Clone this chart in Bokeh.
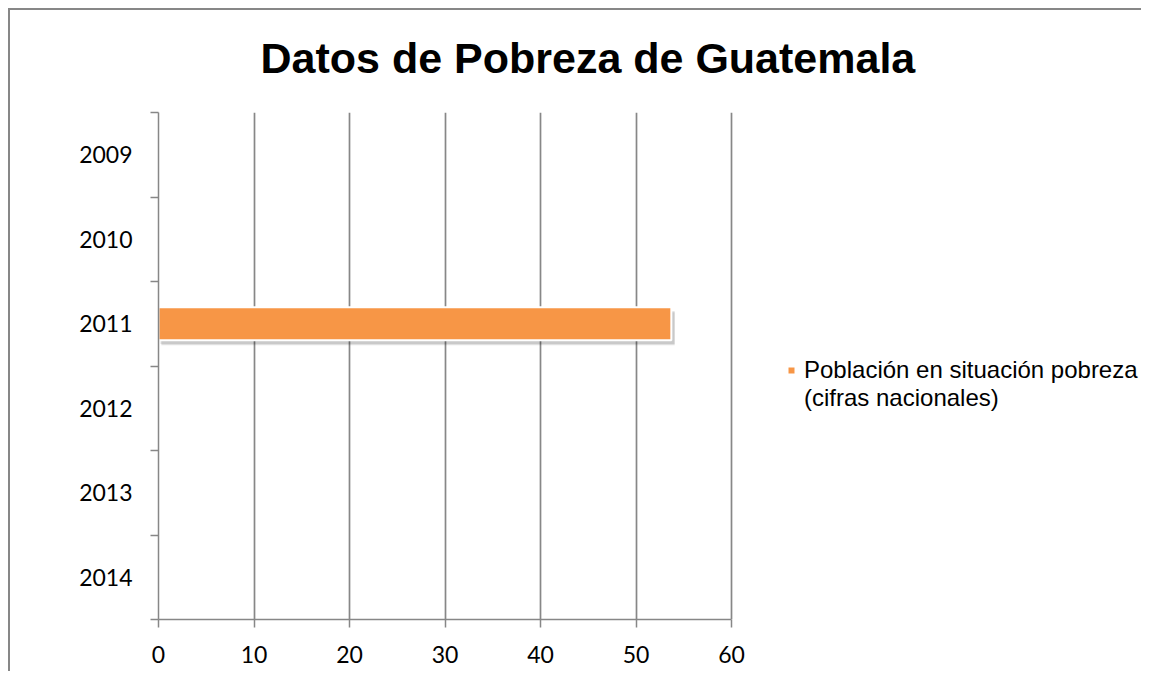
from bokeh.plotting import figure
from bokeh.models import (ColumnDataSource, FixedTicker, Legend, LegendItem,
                          Range1d)
from bokeh.transform import dodge
from bokeh.embed import file_html
from bokeh.resources import INLINE

# ---- data ----
years = ["2009", "2010", "2011", "2012", "2013", "2014"]
poverty = [None, None, 53.7, None, None, None]
series_lines = ["Población en situación pobreza", "(cifras nacionales)"]
title_text = "Datos de Pobreza de Guatemala"
x_ticks = [0, 10, 20, 30, 40, 50, 60]

GRAY = "#878787"
ORANGE = "#F79646"

# layout (pixels)
FRAME_L, FRAME_R_AXIS, CANVAS_W, BORDER_R = 158, 573, 1141, 0
frame_w = CANVAS_W - FRAME_L - BORDER_R
x_max = x_ticks[-1]
x_end = x_max * frame_w / FRAME_R_AXIS   # frame extends to the right for legend room

n = len(years)
pos = {y: n - 1 - i + 0.5 for i, y in enumerate(years)}   # first year at top
vals = [v for v in poverty if v is not None]
src = ColumnDataSource(dict(
    y=[pos[y] for y, v in zip(years, poverty) if v is not None],
    v=vals,
    v_sh=[v + 0.35 for v in vals],
))

p = figure(width=CANVAS_W, height=671, output_backend="svg", toolbar_location=None,
           x_range=Range1d(0, x_end), y_range=Range1d(0, n),
           min_border_left=FRAME_L, min_border_top=112, min_border_right=BORDER_R,
           min_border_bottom=52)
# chart-area border (left and top edges visible in the window)
p.styles = {
    "background": (f"linear-gradient({GRAY},{GRAY}) 8px 8px / 2px calc(100% - 8px) no-repeat, "
                   f"linear-gradient({GRAY},{GRAY}) 8px 8px / calc(100% - 8px) 2px no-repeat, "
                   "#ffffff"),
}
p.outline_line_color = None
p.background_fill_color = "white"
p.border_fill_color = None

# soft shadow under the bar
p.hbar(y=dodge("y", -0.06), right="v_sh", left=0.3, height=0.39, source=src,
       fill_color="black", fill_alpha=0.12, line_color=None)
p.hbar(y=dodge("y", -0.045), right="v_sh", left=0.2, height=0.39, source=src,
       fill_color="black", fill_alpha=0.10, line_color=None)
r = p.hbar(y="y", right="v", left=0, height=0.39, source=src,
           fill_color=ORANGE, line_color="white", line_width=2)
# invisible renderer used only for the second legend text line
r_blank = p.hbar(y=[], right=[], left=0, height=0.39,
                 fill_alpha=0, line_alpha=0)

# title
p.title.text = title_text
p.title.text_font = "Liberation Sans"
p.title.text_font_size = "43px"
p.title.text_font_style = "bold"
p.title.text_color = "black"
p.title.align = "left"
p.title.offset = 102
p.title.standoff = 62

# x axis
xa = p.xaxis[0]
xa.ticker = FixedTicker(ticks=x_ticks, minor_ticks=[])
xa.bounds = (0, x_max)
xa.axis_line_color = GRAY
xa.axis_line_width = 1.5
xa.major_tick_line_color = GRAY
xa.major_tick_line_width = 1.5
xa.major_tick_out = 8
xa.major_tick_in = 0
xa.major_label_text_font = "Lato"
xa.major_label_text_font_size = "23px"
xa.major_label_text_color = "black"
xa.major_label_standoff = 18

# y axis: labels at category centres, tick marks at boundaries
ya = p.yaxis[0]
ya.ticker = FixedTicker(ticks=[pos[y] for y in years],
                        minor_ticks=list(range(n + 1)))
ya.major_label_overrides = {pos[y]: y for y in years}
ya.axis_line_color = GRAY
ya.axis_line_width = 1.5
ya.major_tick_out = 0
ya.major_tick_in = 0
ya.minor_tick_line_color = GRAY
ya.minor_tick_line_width = 1.5
ya.minor_tick_out = 8
ya.minor_tick_in = 0
ya.major_label_text_font = "Lato"
ya.major_label_text_font_size = "23px"
ya.major_label_text_color = "black"
ya.major_label_standoff = 18

# grid
p.xgrid.grid_line_color = GRAY
p.xgrid.grid_line_width = 1.7
p.xgrid.bounds = (0, x_max)
p.ygrid.grid_line_color = None

legend = Legend(items=[LegendItem(label=series_lines[0], renderers=[r]),
                       LegendItem(label=series_lines[1], renderers=[r_blank])],
                location=(628, 207), margin=0, padding=0, spacing=0,
                glyph_width=10, glyph_height=10, label_standoff=8,
                label_text_font="Liberation Sans", label_text_font_size="24px",
                label_text_color="black", border_line_color=None,
                background_fill_alpha=0)
p.add_layout(legend, "center")

open("out.html", "w").write(file_html(p, INLINE))
